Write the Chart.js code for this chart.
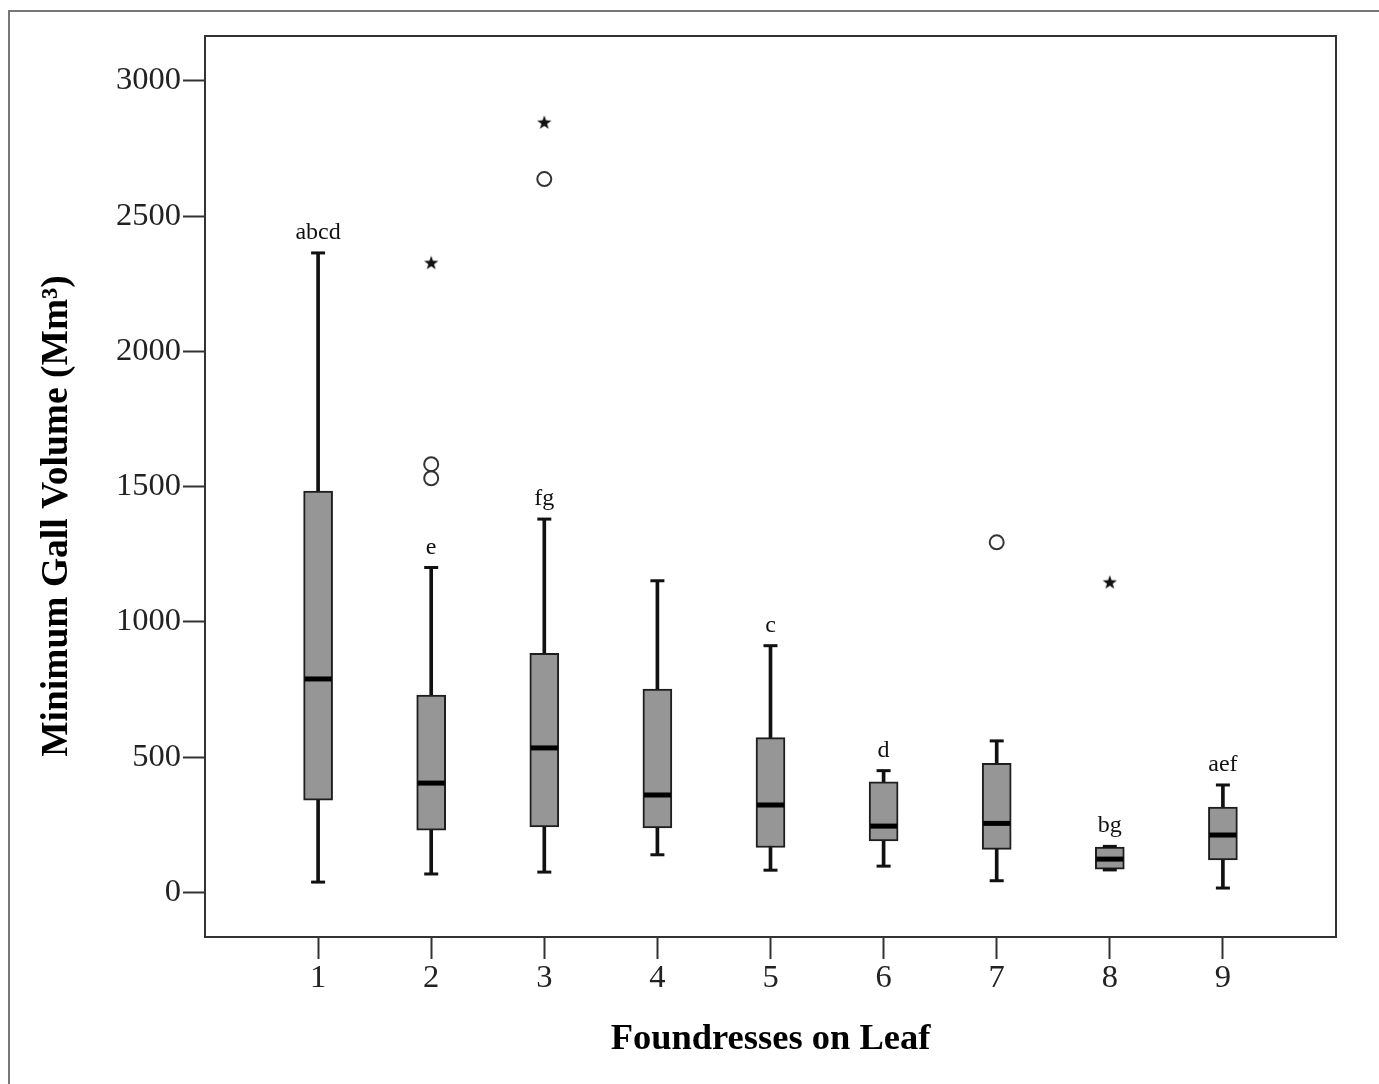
<!DOCTYPE html>
<html><head><meta charset="utf-8">
<script src="https://cdn.jsdelivr.net/npm/chart.js@4/dist/chart.umd.min.js"></script>
<style>html,body{margin:0;padding:0;background:#fff;overflow:hidden}
#wrap{position:relative;width:1379px;height:1084px}</style></head>
<body><div id="wrap"><canvas id="c" width="1379" height="1084"></canvas></div>
<script>
// ---- data ----
const categories   = [1, 2, 3, 4, 5, 6, 7, 8, 9];
const whiskerLow   = [38, 68, 75, 139, 82, 97, 43, 83, 16];
const q1           = [341, 230, 242, 238, 166, 190, 159, 86, 120];
const median       = [789, 404, 534, 360, 323, 245, 255, 123, 212];
const q3           = [1484, 729, 884, 752, 572, 409, 477, 167, 315];
const whiskerHigh  = [2364, 1201, 1380, 1152, 912, 450, 560, 170, 397];
const circleX      = [2, 2, 3, 7];
const circleY      = [1583, 1531, 2637, 1294];
const starX        = [2, 3, 8];
const starY        = [2326, 2845, 1145];
const groupLetters = ['abcd', 'e', 'fg', '', 'c', 'd', '', 'bg', 'aef'];
const xTicks       = [1, 2, 3, 4, 5, 6, 7, 8, 9];
const yTicks       = [0, 500, 1000, 1500, 2000, 2500, 3000];
const xTitle = 'Foundresses on Leaf';
const yTitle = 'Minimum Gall Volume (Mm\u00B3)';

const SERIF = "'Liberation Serif', 'Times New Roman', serif";

function makeStar() {
  const c = document.createElement('canvas');
  c.width = 16; c.height = 16;
  const g = c.getContext('2d');
  g.fillStyle = '#111';
  g.beginPath();
  for (let k = 0; k < 10; k++) {
    const r = k % 2 ? 3 : 7.5;
    const a = -Math.PI / 2 + k * Math.PI / 5;
    g.lineTo(8 + r * Math.cos(a), 8 + r * Math.sin(a));
  }
  g.closePath(); g.fill();
  return c;
}
const starImg = makeStar();

const framePlugin = {
  id: 'frame',
  beforeDraw(chart) {
    const ctx = chart.ctx;
    ctx.save();
    ctx.strokeStyle = '#777'; ctx.lineWidth = 2;
    ctx.beginPath();
    ctx.moveTo(9, 1084); ctx.lineTo(9, 11); ctx.lineTo(1379, 11);
    ctx.stroke();
    ctx.restore();
  },
  afterDraw(chart) {
    const ctx = chart.ctx, a = chart.chartArea;
    ctx.save();
    ctx.strokeStyle = '#333'; ctx.lineWidth = 2;
    ctx.beginPath();
    ctx.moveTo(a.left, a.top); ctx.lineTo(a.right, a.top); ctx.lineTo(a.right, a.bottom);
    ctx.stroke();
    // y axis title
    ctx.translate(67, 516);
    ctx.rotate(-Math.PI / 2);
    ctx.font = 'bold 37.5px ' + SERIF;
    ctx.fillStyle = '#000';
    ctx.textAlign = 'center';
    ctx.textBaseline = 'alphabetic';
    ctx.fillText(yTitle, 0, 0);
    ctx.restore();
  },
  afterDatasetsDraw(chart) {
    const ctx = chart.ctx, xs = chart.scales.x, ys = chart.scales.y;
    ctx.save();
    ctx.font = '24px ' + SERIF;
    ctx.fillStyle = '#111';
    ctx.textAlign = 'center';
    ctx.textBaseline = 'alphabetic';
    categories.forEach((c, i) => {
      if (!groupLetters[i]) return;
      ctx.fillText(groupLetters[i], xs.getPixelForValue(c), ys.getPixelForValue(whiskerHigh[i]) - 14);
    });
    ctx.restore();
  }
};

const tickFont = {family: SERIF, size: 32.5};

new Chart(document.getElementById('c'), {
  type: 'scatter',
  data: {
    datasets: [
      {type: 'bar', label: 'whisker', grouped: false, order: 4, barThickness: 3,
       backgroundColor: '#111', borderWidth: 0,
       data: categories.map((c, i) => ({x: c, y: [whiskerLow[i], whiskerHigh[i]]}))},
      {type: 'bar', label: 'box', grouped: false, order: 3, barThickness: 29,
       backgroundColor: '#969696', borderColor: '#1e1e1e', borderWidth: 2, borderSkipped: false,
       data: categories.map((c, i) => ({x: c, y: [q1[i], q3[i]]}))},
      {label: 'caps', order: 2, pointStyle: 'line', pointRadius: 7, pointBorderWidth: 3,
       borderColor: '#111', backgroundColor: '#111',
       data: categories.map((c, i) => ({x: c, y: whiskerLow[i]})).concat(categories.map((c, i) => ({x: c, y: whiskerHigh[i]})))},
      {label: 'median', order: 1, pointStyle: 'line', pointRadius: 13.5, pointBorderWidth: 5,
       borderColor: '#000', backgroundColor: '#000',
       data: categories.map((c, i) => ({x: c, y: median[i]}))},
      {label: 'outlier', order: 0, pointStyle: 'circle', pointRadius: 7, pointBorderWidth: 2,
       borderColor: '#333', backgroundColor: 'rgba(255,255,255,0)',
       data: circleX.map((x, i) => ({x: x, y: circleY[i]}))},
      {label: 'extreme', order: 0, pointStyle: starImg, pointRadius: 8,
       data: starX.map((x, i) => ({x: x, y: starY[i]}))}
    ]
  },
  options: {
    responsive: false, animation: false, devicePixelRatio: 1,
    layout: {padding: {top: 36, right: 43, bottom: 0, left: 0}},
    plugins: {legend: {display: false}, tooltip: {enabled: false}},
    scales: {
      x: {
        type: 'linear', min: 0, max: 10, offset: false,
        afterBuildTicks: s => { s.ticks = xTicks.map(v => ({value: v})); },
        afterFit: s => { s.height = 147; },
        ticks: {font: tickFont, color: '#222', padding: 0, maxRotation: 0, autoSkip: false, callback: v => String(v)},
        grid: {display: true, offset: false, drawOnChartArea: false, drawTicks: true, tickLength: 22, tickWidth: 2, tickColor: '#333'},
        border: {display: true, color: '#333', width: 2},
        title: {display: true, text: xTitle, color: '#000', font: {family: SERIF, size: 36.5, weight: 'bold'}, padding: {top: 0, bottom: 23}}
      },
      y: {
        type: 'linear', min: -165, max: 3166,
        afterBuildTicks: s => { s.ticks = yTicks.map(v => ({value: v})); },
        afterFit: s => { s.width = 205; },
        ticks: {font: tickFont, color: '#222', padding: 2, callback: v => String(v)},
        grid: {display: true, drawOnChartArea: false, drawTicks: true, tickLength: 22, tickWidth: 2, tickColor: '#333'},
        border: {display: true, color: '#333', width: 2}
      }
    }
  },
  plugins: [framePlugin]
});
</script></body></html>
